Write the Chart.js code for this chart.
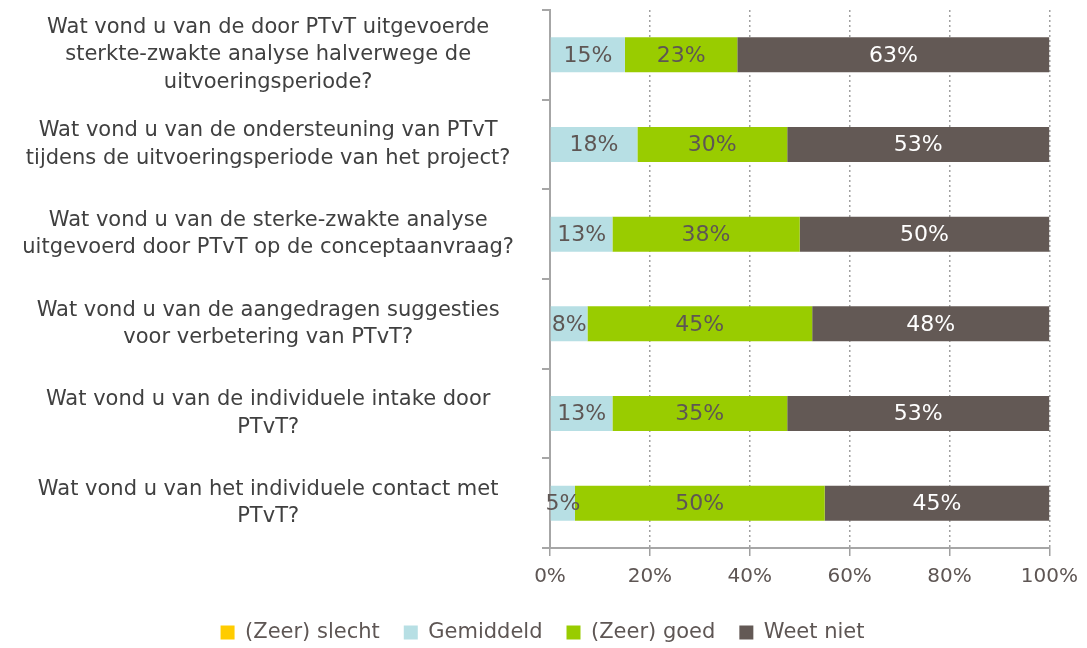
<!DOCTYPE html>
<html>
<head>
<meta charset="utf-8">
<script src="https://cdn.jsdelivr.net/npm/chart.js@4"></script>
<style>
  body { margin: 0; background: #fff; }
  #wrap { width: 1087px; height: 648px; }
</style>
</head>
<body>
<div id="wrap"><canvas id="grafiek"></canvas></div>
<script>
// vragen (van boven naar beneden)
const vragen = [
    ['Wat vond u van de door PTvT uitgevoerde', 'sterkte-zwakte analyse halverwege de', 'uitvoeringsperiode?'],
    ['Wat vond u van de ondersteuning van PTvT', 'tijdens de uitvoeringsperiode van het project?'],
    ['Wat vond u van de sterke-zwakte analyse', 'uitgevoerd door PTvT op de conceptaanvraag?'],
    ['Wat vond u van de aangedragen suggesties', 'voor verbetering van PTvT?'],
    ['Wat vond u van de individuele intake door', 'PTvT?'],
    ['Wat vond u van het individuele contact met', 'PTvT?']
];

// percentages per antwoordcategorie
const zeerSlecht = [0, 0, 0, 0, 0, 0];
const gemiddeld  = [15, 17.5, 12.5, 7.5, 12.5, 5];
const zeerGoed   = [22.5, 30, 37.5, 45, 35, 50];
const weetNiet   = [62.5, 52.5, 50, 47.5, 52.5, 45];

const xTicks = [0, 20, 40, 60, 80, 100];

const FONT = "'DejaVu Sans', Verdana, sans-serif";
Chart.defaults.font.family = FONT;
Chart.defaults.font.size = 20;
Chart.defaults.color = '#595959';

// eigen plugin voor de percentages in de balken
const balkLabels = {
    id: 'balkLabels',
    afterDatasetsDraw(chart) {
        const ctx = chart.ctx;
        ctx.save();
        ctx.font = '22px ' + FONT;
        ctx.textAlign = 'center';
        ctx.textBaseline = 'middle';
        chart.data.datasets.forEach((ds, i) => {
            const meta = chart.getDatasetMeta(i);
            meta.data.forEach((bar, j) => {
                const v = ds.data[j];
                if (!v) return;
                const x = (bar.x + bar.base) / 2;
                ctx.fillStyle = ds.labelKleur;
                ctx.fillText(Math.round(v) + '%', x, bar.y + 1);
            });
        });
        ctx.restore();
    }
};

const ctx = document.getElementById('grafiek').getContext('2d');

new Chart(ctx, {
    type: 'bar',
    data: {
        labels: vragen,
        datasets: [
            { label: '(Zeer) slecht', data: zeerSlecht, backgroundColor: '#FFCC00', labelKleur: '#595959' },
            { label: 'Gemiddeld', data: gemiddeld, backgroundColor: '#B7DFE4', labelKleur: '#5e5654' },
            { label: '(Zeer) goed', data: zeerGoed, backgroundColor: '#99CC00', labelKleur: '#5e5654' },
            { label: 'Weet niet', data: weetNiet, backgroundColor: '#635955', labelKleur: '#ffffff' }
        ]
    },
    options: {
        indexAxis: 'y',
        responsive: true,
        maintainAspectRatio: false,
        animation: false,
        barPercentage: 0.5,
        categoryPercentage: 0.78,
        layout: { padding: { top: 10, right: 6, left: 4, bottom: -5 } },
        scales: {
            x: {
                stacked: true,
                min: 0,
                max: 100,
                afterBuildTicks: axis => { axis.ticks = xTicks.map(v => ({ value: v })); },
                ticks: {
                    callback: v => v + '%',
                    color: '#5e5654',
                    padding: 9,
                    font: { size: 20 }
                },
                grid: {
                    color: '#a0a0a0',
                    lineWidth: 1.5,
                    tickBorderDash: [],
                    tickLength: 8
                },
                border: { color: '#a6a6a6', width: 2, dash: [2, 3] }
            },
            y: {
                stacked: true,
                afterFit: axis => {
                    axis.width = 546;
                    axis.paddingTop = 0;
                    axis.paddingBottom = 0;
                },
                ticks: {
                    color: '#404040',
                    crossAlign: 'center',
                    padding: 28,
                    font: { size: 21, lineHeight: 1.3 }
                },
                grid: {
                    drawOnChartArea: false,
                    color: '#a6a6a6',
                    lineWidth: 2,
                    tickLength: 8
                },
                border: { color: '#a6a6a6', width: 2 }
            }
        },
        plugins: {
            legend: {
                position: 'bottom',
                labels: {
                    boxWidth: 14,
                    boxHeight: 14,
                    padding: 24,
                    color: '#5e5654',
                    font: { size: 21 }
                }
            },
            tooltip: { enabled: false }
        }
    },
    plugins: [balkLabels]
});
</script>
</body>
</html>
